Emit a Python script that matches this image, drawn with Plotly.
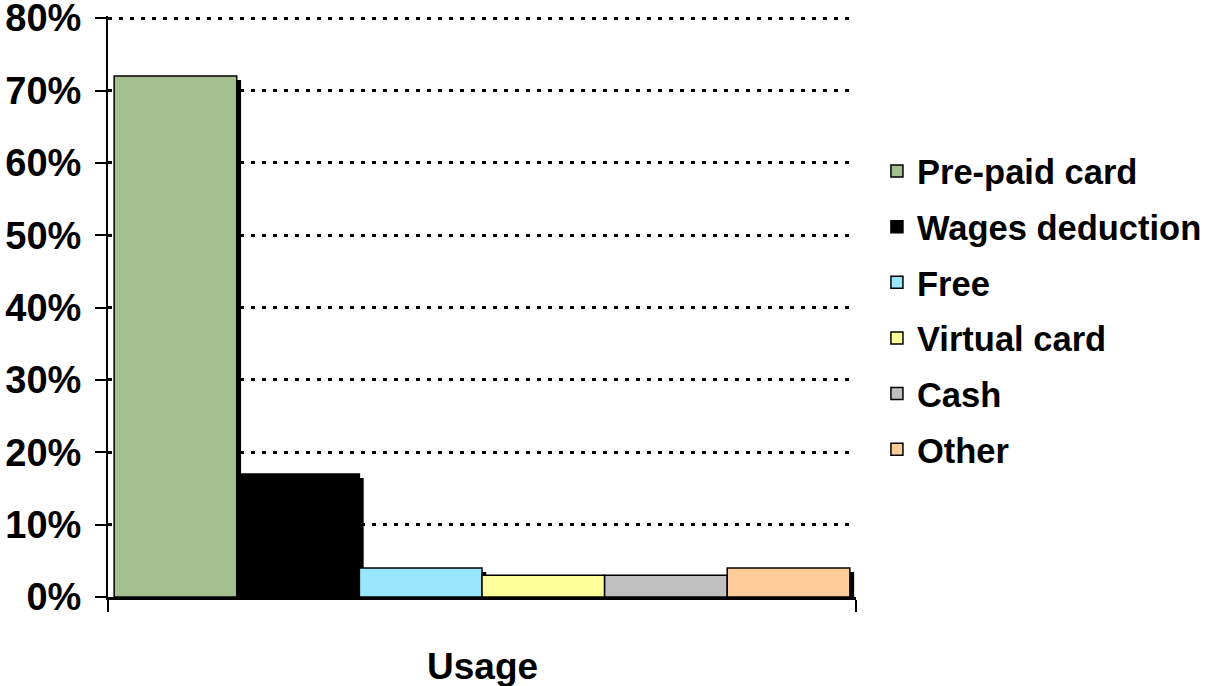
import plotly.graph_objects as go

categories = ["Pre-paid card", "Wages deduction", "Free", "Virtual card", "Cash", "Other"]
values = [0.72, 0.17, 0.04, 0.03, 0.03, 0.04]
colors = ["#A2BF8F", "#000000", "#99E6FF", "#FFFF99", "#C0C0C0", "#FFCC99"]
category_label = "Usage"
y_ticks = [0, 0.1, 0.2, 0.3, 0.4, 0.5, 0.6, 0.7, 0.8]

FONT = "Liberation Sans, Arial, sans-serif"
shadow_dx = 0.035
shadow_dy = 0.0055

fig = go.Figure()
# shadows
for i, (c, v) in enumerate(zip(categories, values)):
    fig.add_trace(go.Bar(
        x=[i + shadow_dx], y=[v], base=[-shadow_dy], width=1,
        marker=dict(color="#000000", line=dict(width=0)),
        showlegend=False, hoverinfo="skip"))
for i, (c, v, col) in enumerate(zip(categories, values, colors)):
    fig.add_trace(go.Bar(
        x=[i], y=[v], width=1, name=c, legendgroup=c,
        marker=dict(color=col, line=dict(color="#000000", width=1.5))))

fig.add_annotation(text=category_label, x=0.5, xref="paper", y=-0.119, yref="paper",
                   xanchor="center", yanchor="middle", showarrow=False,
                   font=dict(family=FONT, size=37, weight=700, color="black"))

fig.update_layout(
    width=1206, height=686,
    barmode="overlay",
    plot_bgcolor="white", paper_bgcolor="white",
    margin=dict(l=108, r=350, t=16, b=89, autoexpand=False),
    font=dict(family=FONT, color="black", size=36, weight=700),
    legend=dict(x=1.028, xanchor="left", y=0.783, yanchor="top",
                font=dict(family=FONT, size=34.5, weight=700, color="black"),
                tracegroupgap=7.8, traceorder="grouped", bgcolor="rgba(0,0,0,0)"),
    xaxis=dict(range=[-0.55, 5.55], tickvals=[-0.549, 5.549], ticktext=["", ""],
               ticks="outside", ticklen=12, tickwidth=2, tickcolor="black",
               showline=True, linecolor="black", linewidth=2.5, showgrid=False,
               zeroline=False, automargin=False),
    yaxis=dict(range=[0, 0.803], tickvals=y_ticks, tickformat=".0%",
               ticks="outside", ticklen=11, tickwidth=2, tickcolor="black",
               ticklabelstandoff=6, automargin=False, ticklabeloverflow="allow",
               showline=True, linecolor="black", linewidth=2,
               showgrid=True, gridcolor="black", gridwidth=3, griddash="4px,7px",
               zeroline=False,
               tickfont=dict(family=FONT, size=38, weight=700)),
)

fig.write_html("out.html", config={"displayModeBar": False},
               post_script="document.body.style.margin='0';document.body.style.overflow='hidden';")
